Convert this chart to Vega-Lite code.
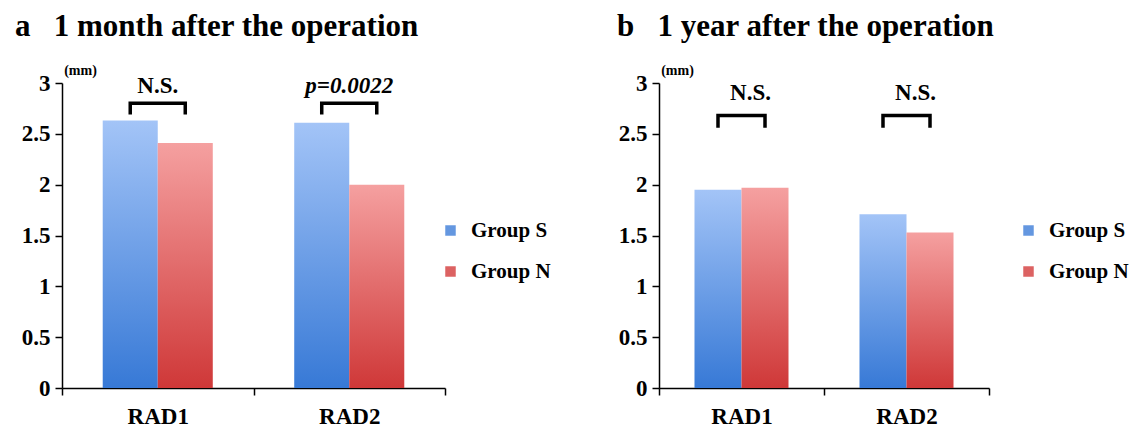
{
 "$schema": "https://vega.github.io/schema/vega-lite/v6.json",
 "background": "white",
 "padding": {"left": 15, "top": 11, "right": 5, "bottom": 5},
 "datasets": {
  "bars": [
   {"panel": "a", "cat": "RAD1", "group": "Group S", "value": 2.63},
   {"panel": "a", "cat": "RAD1", "group": "Group N", "value": 2.41},
   {"panel": "a", "cat": "RAD2", "group": "Group S", "value": 2.61},
   {"panel": "a", "cat": "RAD2", "group": "Group N", "value": 2.0},
   {"panel": "b", "cat": "RAD1", "group": "Group S", "value": 1.95},
   {"panel": "b", "cat": "RAD1", "group": "Group N", "value": 1.97},
   {"panel": "b", "cat": "RAD2", "group": "Group S", "value": 1.71},
   {"panel": "b", "cat": "RAD2", "group": "Group N", "value": 1.53}
  ],
  "brackets": [
   {"panel": "a", "cat": "RAD1", "group": "Group S", "value": 2.69, "ord": 1},
   {"panel": "a", "cat": "RAD1", "group": "Group S", "value": 2.8, "ord": 2},
   {"panel": "a", "cat": "RAD1", "group": "Group N", "value": 2.8, "ord": 3},
   {"panel": "a", "cat": "RAD1", "group": "Group N", "value": 2.69, "ord": 4},
   {"panel": "a", "cat": "RAD2", "group": "Group S", "value": 2.69, "ord": 1},
   {"panel": "a", "cat": "RAD2", "group": "Group S", "value": 2.8, "ord": 2},
   {"panel": "a", "cat": "RAD2", "group": "Group N", "value": 2.8, "ord": 3},
   {"panel": "a", "cat": "RAD2", "group": "Group N", "value": 2.69, "ord": 4},
   {"panel": "b", "cat": "RAD1", "group": "Group S", "value": 2.56, "ord": 1},
   {"panel": "b", "cat": "RAD1", "group": "Group S", "value": 2.68, "ord": 2},
   {"panel": "b", "cat": "RAD1", "group": "Group N", "value": 2.68, "ord": 3},
   {"panel": "b", "cat": "RAD1", "group": "Group N", "value": 2.56, "ord": 4},
   {"panel": "b", "cat": "RAD2", "group": "Group S", "value": 2.56, "ord": 1},
   {"panel": "b", "cat": "RAD2", "group": "Group S", "value": 2.68, "ord": 2},
   {"panel": "b", "cat": "RAD2", "group": "Group N", "value": 2.68, "ord": 3},
   {"panel": "b", "cat": "RAD2", "group": "Group N", "value": 2.56, "ord": 4}
  ],
  "labels": [
   {"panel": "a", "cat": "RAD1", "label": "N.S.", "value": 2.97},
   {"panel": "a", "cat": "RAD2", "label": "p=0.0022", "value": 2.97},
   {"panel": "b", "cat": "RAD1", "label": "N.S.", "value": 2.9},
   {"panel": "b", "cat": "RAD2", "label": "N.S.", "value": 2.9}
  ]
 },
 "config": {
  "view": {"stroke": null},
  "font": "Liberation Serif",
  "axis": {"domainColor": "black", "domainWidth": 1.5, "tickColor": "black", "tickWidth": 1.5, "labelFont": "Liberation Serif", "labelFontWeight": "bold", "labelColor": "black", "labelFontSize": 23, "grid": false},
  "legend": {"labelFont": "Liberation Serif", "labelFontWeight": "bold", "labelFontSize": 21, "labelColor": "black", "symbolType": "square", "symbolSize": 110, "symbolOpacity": 1, "symbolStrokeWidth": 0, "rowPadding": 19, "labelOffset": 10},
  "title": {"font": "Liberation Serif", "fontSize": 31, "fontWeight": "bold", "color": "black", "anchor": "start", "frame": "group"}
 },
 "resolve": {"scale": {"color": "independent", "y": "independent", "x": "independent", "xOffset": "independent"}},
 "spacing": 66,
 "hconcat": [
  {
   "width": 383, "height": 305,
   "title": {"text": "a\u00a0\u00a0\u00a01 month after the operation", "font": "Liberation Serif", "fontSize": 31, "fontWeight": "bold", "dx": -47, "offset": 20},
   "layer": [
    {
     "data": {"name": "bars"},
     "transform": [{"filter": "datum.panel==='a' && datum.group==='Group S'"}],
     "mark": {"type": "bar", "color": {"gradient": "linear", "x1": 0, "y1": 0, "x2": 0, "y2": 1, "stops": [{"offset": 0, "color": "#a3c4f7"}, {"offset": 1, "color": "#3779d6"}]}},
     "encoding": {
      "x": {"field": "cat", "type": "nominal", "scale": {"paddingInner": 0, "paddingOuter": 0}, "axis": {"title": null, "labelAngle": 0, "tickBand": "extent", "tickSize": 7, "labelPadding": 10}},
      "xOffset": {"field": "group", "type": "nominal", "scale": {"domain": ["Group S", "Group N"], "paddingOuter": 0.74, "paddingInner": 0}},
      "y": {"field": "value", "type": "quantitative", "scale": {"domain": [0, 3]}, "axis": {"values": [0, 0.5, 1, 1.5, 2, 2.5, 3], "format": "~g", "title": "(mm)", "titleAngle": 0, "titleX": 18, "titleY": -6, "titleFontSize": 14, "titleFont": "Liberation Serif", "titleFontWeight": "bold", "titleColor": "black", "titleAlign": "center", "titleBaseline": "bottom", "tickSize": 7, "labelPadding": 5}}
     }
    },
    {
     "data": {"name": "bars"},
     "transform": [{"filter": "datum.panel==='a' && datum.group==='Group N'"}],
     "mark": {"type": "bar", "color": {"gradient": "linear", "x1": 0, "y1": 0, "x2": 0, "y2": 1, "stops": [{"offset": 0, "color": "#f5a0a0"}, {"offset": 1, "color": "#cf3838"}]}},
     "encoding": {
      "x": {"field": "cat", "type": "nominal"},
      "xOffset": {"field": "group", "type": "nominal"},
      "y": {"field": "value", "type": "quantitative"}
     }
    },
    {
     "data": {"name": "bars"},
     "transform": [{"filter": "datum.panel==='a'"}],
     "mark": {"type": "bar", "opacity": 0},
     "encoding": {
      "x": {"field": "cat", "type": "nominal"},
      "xOffset": {"field": "group", "type": "nominal"},
      "y": {"field": "value", "type": "quantitative"},
      "color": {"field": "group", "type": "nominal", "scale": {"domain": ["Group S", "Group N"], "range": ["#6497e0", "#dc6262"]}, "legend": {"title": null, "orient": "none", "legendX": 378, "legendY": 137}}
     }
    },
    {
     "data": {"name": "brackets"},
     "transform": [{"filter": "datum.panel==='a'"}],
     "mark": {"type": "line", "color": "black", "strokeWidth": 3.5, "strokeJoin": "miter", "strokeCap": "butt"},
     "encoding": {
      "x": {"field": "cat", "type": "nominal"},
      "xOffset": {"field": "group", "type": "nominal"},
      "y": {"field": "value", "type": "quantitative"},
      "detail": {"field": "cat"},
      "order": {"field": "ord", "type": "quantitative"}
     }
    },
    {
     "data": {"name": "labels"},
     "transform": [{"filter": "datum.panel==='a' && datum.label==='N.S.'"}],
     "mark": {"type": "text", "font": "Liberation Serif", "fontWeight": "bold", "fontSize": 23, "baseline": "middle", "color": "black"},
     "encoding": {
      "x": {"field": "cat", "type": "nominal"},
      "y": {"field": "value", "type": "quantitative"},
      "text": {"field": "label"}
     }
    },
    {
     "data": {"name": "labels"},
     "transform": [{"filter": "datum.panel==='a' && datum.label!=='N.S.'"}],
     "mark": {"type": "text", "font": "Liberation Serif", "fontWeight": "bold", "fontStyle": "italic", "fontSize": 23, "baseline": "middle", "color": "black"},
     "encoding": {
      "x": {"field": "cat", "type": "nominal"},
      "y": {"field": "value", "type": "quantitative"},
      "text": {"field": "label"}
     }
    }
   ]
  },
  {
   "width": 330, "height": 305,
   "title": {"text": "b\u00a0\u00a0\u00a01 year after the operation", "font": "Liberation Serif", "fontSize": 31, "fontWeight": "bold", "dx": -42, "offset": 20},
   "layer": [
    {
     "data": {"name": "bars"},
     "transform": [{"filter": "datum.panel==='b' && datum.group==='Group S'"}],
     "mark": {"type": "bar", "color": {"gradient": "linear", "x1": 0, "y1": 0, "x2": 0, "y2": 1, "stops": [{"offset": 0, "color": "#a3c4f7"}, {"offset": 1, "color": "#3779d6"}]}},
     "encoding": {
      "x": {"field": "cat", "type": "nominal", "scale": {"paddingInner": 0, "paddingOuter": 0}, "axis": {"title": null, "labelAngle": 0, "tickBand": "extent", "tickSize": 7, "labelPadding": 10}},
      "xOffset": {"field": "group", "type": "nominal", "scale": {"domain": ["Group S", "Group N"], "paddingOuter": 0.755, "paddingInner": 0}},
      "y": {"field": "value", "type": "quantitative", "scale": {"domain": [0, 3]}, "axis": {"values": [0, 0.5, 1, 1.5, 2, 2.5, 3], "format": "~g", "title": "(mm)", "titleAngle": 0, "titleX": 18, "titleY": -6, "titleFontSize": 14, "titleFont": "Liberation Serif", "titleFontWeight": "bold", "titleColor": "black", "titleAlign": "center", "titleBaseline": "bottom", "tickSize": 7, "labelPadding": 5}}
     }
    },
    {
     "data": {"name": "bars"},
     "transform": [{"filter": "datum.panel==='b' && datum.group==='Group N'"}],
     "mark": {"type": "bar", "color": {"gradient": "linear", "x1": 0, "y1": 0, "x2": 0, "y2": 1, "stops": [{"offset": 0, "color": "#f5a0a0"}, {"offset": 1, "color": "#cf3838"}]}},
     "encoding": {
      "x": {"field": "cat", "type": "nominal"},
      "xOffset": {"field": "group", "type": "nominal"},
      "y": {"field": "value", "type": "quantitative"}
     }
    },
    {
     "data": {"name": "bars"},
     "transform": [{"filter": "datum.panel==='b'"}],
     "mark": {"type": "bar", "opacity": 0},
     "encoding": {
      "x": {"field": "cat", "type": "nominal"},
      "xOffset": {"field": "group", "type": "nominal"},
      "y": {"field": "value", "type": "quantitative"},
      "color": {"field": "group", "type": "nominal", "scale": {"domain": ["Group S", "Group N"], "range": ["#6497e0", "#dc6262"]}, "legend": {"title": null, "orient": "none", "legendX": 359, "legendY": 137}}
     }
    },
    {
     "data": {"name": "brackets"},
     "transform": [{"filter": "datum.panel==='b'"}],
     "mark": {"type": "line", "color": "black", "strokeWidth": 3.5, "strokeJoin": "miter", "strokeCap": "butt", "xOffset": 11},
     "encoding": {
      "x": {"field": "cat", "type": "nominal"},
      "xOffset": {"field": "group", "type": "nominal"},
      "y": {"field": "value", "type": "quantitative"},
      "detail": {"field": "cat"},
      "order": {"field": "ord", "type": "quantitative"}
     }
    },
    {
     "data": {"name": "labels"},
     "transform": [{"filter": "datum.panel==='b'"}],
     "mark": {"type": "text", "font": "Liberation Serif", "fontWeight": "bold", "fontSize": 23, "baseline": "middle", "color": "black", "dx": 9},
     "encoding": {
      "x": {"field": "cat", "type": "nominal"},
      "y": {"field": "value", "type": "quantitative"},
      "text": {"field": "label"}
     }
    }
   ]
  }
 ]
}
